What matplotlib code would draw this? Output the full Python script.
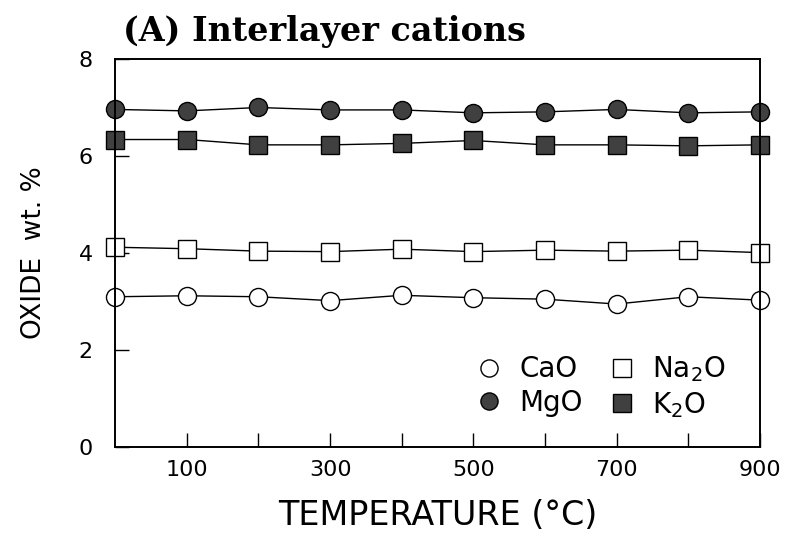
import matplotlib
matplotlib.use("Agg")
import matplotlib.pyplot as plt

plt.rcParams["font.family"] = ["DejaVu Sans"]
plt.rcParams["mathtext.fontset"] = "dejavusans"

temperature = [0, 100, 200, 300, 400, 500, 600, 700, 800, 900]
cao = [3.10, 3.12, 3.10, 3.02, 3.13, 3.08, 3.05, 2.95, 3.10, 3.03]
na2o = [4.12, 4.09, 4.04, 4.03, 4.08, 4.03, 4.06, 4.04, 4.06, 4.01]
mgo = [6.96, 6.93, 7.00, 6.95, 6.95, 6.89, 6.91, 6.96, 6.89, 6.91]
k2o = [6.34, 6.34, 6.23, 6.23, 6.26, 6.32, 6.23, 6.23, 6.21, 6.23]

x_ticklabels = [100, 300, 500, 700, 900]
y_ticks = [0, 2, 4, 6, 8]

fig = plt.figure(figsize=(7.89, 5.46), dpi=100)
ax = fig.add_axes([0.146, 0.181, 0.817, 0.711])

line_kw = dict(color="black", linewidth=1.0, markeredgecolor="black",
               markeredgewidth=1.0, markersize=13, clip_on=False)
h_cao, = ax.plot(temperature, cao, marker="o", markerfacecolor="white", **line_kw)
h_na2o, = ax.plot(temperature, na2o, marker="s", markerfacecolor="white", **line_kw)
h_mgo, = ax.plot(temperature, mgo, marker="o", markerfacecolor="#404040", **line_kw)
h_k2o, = ax.plot(temperature, k2o, marker="s", markerfacecolor="#404040", **line_kw)

ax.set_xlim(0, 900)
ax.set_ylim(0, 8)
ax.set_xticks(temperature[1:])
ax.set_xticklabels([str(t) if t in x_ticklabels else "" for t in temperature[1:]])
ax.set_yticks(y_ticks)
ax.tick_params(direction="in", length=10, width=1.0, labelsize=16, pad=9,
               top=False, right=False)
ax.tick_params(axis="y", pad=16)
for side in ax.spines.values():
    side.set_linewidth(1.4)

ax.set_xlabel("TEMPERATURE (°C)", fontsize=24, labelpad=14)
ax.set_ylabel("OXIDE  wt. %", fontsize=19, labelpad=23)

fig.text(0.156, 0.943, "(A) Interlayer cations", fontsize=24, fontweight="bold",
         family=["DejaVu Serif"], va="center")

leg = ax.legend([h_cao, h_mgo, h_na2o, h_k2o],
                ["CaO", "MgO", "Na$_2$O", "K$_2$O"],
                ncol=2, frameon=False, fontsize=20, loc="center",
                bbox_to_anchor=(0.755, 0.155), handlelength=0.8,
                handletextpad=0.7, columnspacing=1.0, labelspacing=0.2,
                markerscale=0.95, borderpad=0)
for h in leg.legend_handles:
    h.set_linestyle("none")

fig.savefig("out.png", dpi=100)
